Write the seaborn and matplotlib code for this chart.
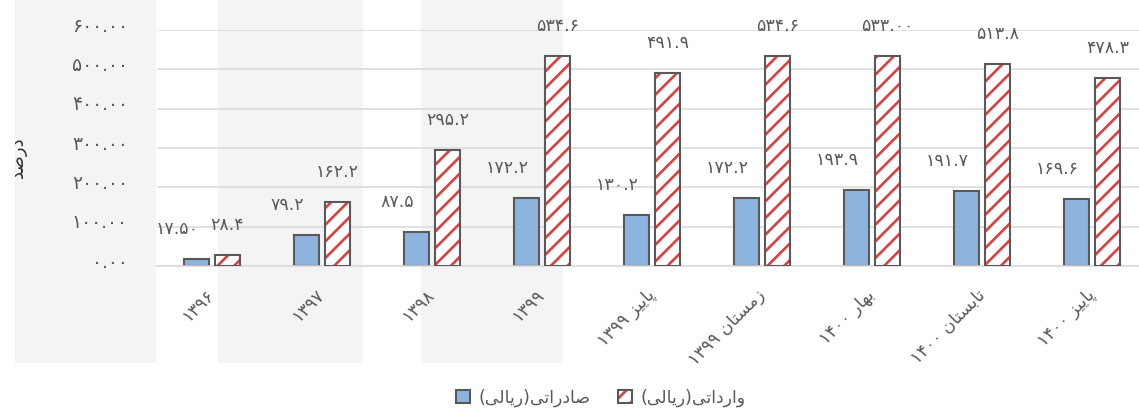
import matplotlib
matplotlib.use("Agg")
import matplotlib.pyplot as plt
import matplotlib.transforms as mtransforms
from matplotlib.patches import Rectangle, Patch
from matplotlib.legend_handler import HandlerTuple
import pandas as pd
import seaborn as sns

# ---- data -------------------------------------------------------------
periods = ["۱۳۹۶", "۱۳۹۷", "۱۳۹۸", "۱۳۹۹", "پاییز ۱۳۹۹", "زمستان ۱۳۹۹",
           "بهار ۱۴۰۰", "تابستان ۱۴۰۰", "پاییز ۱۴۰۰"]
exports = [17.50, 79.2, 87.5, 172.2, 130.2, 172.2, 193.9, 191.7, 169.6]
imports = [28.4, 162.2, 295.2, 534.6, 491.9, 534.6, 533.00, 513.8, 478.3]
export_decimals = [2, 1, 1, 1, 1, 1, 1, 1, 1]
import_decimals = [1, 1, 1, 1, 1, 1, 2, 1, 1]
series_names = ["صادراتی(ریالی)", "وارداتی(ریالی)"]
y_ticks = [0, 100, 200, 300, 400, 500, 600]
y_label = "درصد"

# ---- Persian text helpers (contextual forms + visual order) ----------
FORMS = {
    'ا': ('\uFE8D', '\uFE8E', None, None),
    'ب': ('\uFE8F', '\uFE90', '\uFE91', '\uFE92'),
    'پ': ('\uFB56', '\uFB57', '\uFB58', '\uFB59'),
    'ت': ('\uFE95', '\uFE96', '\uFE97', '\uFE98'),
    'د': ('\uFEA9', '\uFEAA', None, None),
    'ر': ('\uFEAD', '\uFEAE', None, None),
    'ز': ('\uFEAF', '\uFEB0', None, None),
    'س': ('\uFEB1', '\uFEB2', '\uFEB3', '\uFEB4'),
    'ص': ('\uFEB9', '\uFEBA', '\uFEBB', '\uFEBC'),
    'ل': ('\uFEDD', '\uFEDE', '\uFEDF', '\uFEE0'),
    'م': ('\uFEE1', '\uFEE2', '\uFEE3', '\uFEE4'),
    'ن': ('\uFEE5', '\uFEE6', '\uFEE7', '\uFEE8'),
    'ه': ('\uFEE9', '\uFEEA', '\uFEEB', '\uFEEC'),
    'و': ('\uFEED', '\uFEEE', None, None),
    'ی': ('\uFBFC', '\uFBFD', '\uFBFE', '\uFBFF'),
}
PERSIAN_DIGITS = str.maketrans("0123456789", "۰۱۲۳۴۵۶۷۸۹")
NUMERIC = set("۰۱۲۳۴۵۶۷۸۹0123456789.")
MIRROR = {"(": ")", ")": "("}


def shape_word(word):
    out = []
    for i, ch in enumerate(word):
        forms = FORMS[ch]
        prev = word[i - 1] if i > 0 else None
        nxt = word[i + 1] if i + 1 < len(word) else None
        joins_prev = prev is not None and FORMS[prev][2] is not None
        joins_next = nxt is not None and forms[2] is not None
        if joins_prev and joins_next:
            out.append(forms[3])
        elif joins_prev:
            out.append(forms[1])
        elif joins_next:
            out.append(forms[2])
        else:
            out.append(forms[0])
    return "".join(out)


def visual(text):
    """Right-to-left paragraph laid out as a left-to-right glyph string."""
    runs = []
    for ch in text:
        kind = "rtl" if ch in FORMS else ("num" if ch in NUMERIC else "neutral")
        if runs and runs[-1][1] == kind and kind != "neutral":
            runs[-1][0] += ch
        else:
            runs.append([ch, kind])
    parts = []
    for run, kind in reversed(runs):
        if kind == "rtl":
            parts.append(shape_word(run)[::-1])
        elif kind == "num":
            parts.append(run)
        else:
            parts.append(MIRROR.get(run, run))
    return "".join(parts)


def fa_number(value, decimals):
    return f"{value:.{decimals}f}".translate(PERSIAN_DIGITS)


# ---- style ------------------------------------------------------------
sns.set_theme(style="white")
plt.rcParams["font.family"] = ["DejaVu Sans"]
plt.rcParams["hatch.linewidth"] = 1.9

BLUE = "#8db4df"
RED = "#d9413f"
EDGE = "#595959"
GRID = "#d9d9d9"
TEXT = "#595959"
FS = 12.5

W, H = 1139, 413
fig = plt.figure(figsize=(W / 100, H / 100), dpi=100)
fig.patch.set_facecolor("white")

# faint vertical bands in the background
for x0, x1 in [(15, 156), (218, 363), (421, 563)]:
    fig.add_artist(Rectangle((x0 / W, (H - 363) / H), (x1 - x0) / W, 363 / H,
                             transform=fig.transFigure, facecolor="#f4f4f4",
                             edgecolor="none", zorder=-10))

ax = fig.add_axes([157 / W, (H - 266) / H, 990 / W, 236 / H])
ax.set_facecolor("none")

labels_vis = [visual(p) for p in periods]
names_vis = [visual(s) for s in series_names]
df = pd.DataFrame({
    "period": labels_vis * 2,
    "series": [names_vis[0]] * len(periods) + [names_vis[1]] * len(periods),
    "value": exports + imports,
})

sns.barplot(data=df, x="period", y="value", hue="series", order=labels_vis,
            hue_order=names_vis, palette=[BLUE, "white"], width=0.564, gap=0.19,
            edgecolor=EDGE, linewidth=1.5, saturation=1, legend=False, ax=ax)

exp_bars = ax.containers[0]
imp_bars = ax.containers[1]

for bar in imp_bars:
    bar.set_facecolor("white")
    bar.set_edgecolor(RED)
    bar.set_hatch("//")
    bar.set_linewidth(0)
    ax.add_patch(Rectangle(bar.get_xy(), bar.get_width(), bar.get_height(),
                           fill=False, edgecolor=EDGE, linewidth=1.5, zorder=3))

# value labels
for bar, v, d in zip(exp_bars, exports, export_decimals):
    ax.annotate(fa_number(v, d), xy=(bar.get_x() + bar.get_width() / 2, v),
                xytext=(-19, 30), textcoords="offset pixels", ha="center",
                va="center", fontsize=FS, color=TEXT, annotation_clip=False)
for bar, v, d in zip(imp_bars, imports, import_decimals):
    ax.annotate(fa_number(v, d), xy=(bar.get_x() + bar.get_width() / 2, v),
                xytext=(0, 30), textcoords="offset pixels", ha="center",
                va="center", fontsize=FS, color=TEXT, annotation_clip=False)

# axes
ax.set_xlim(-0.5, len(periods) - 0.5)
ax.set_ylim(0, 600)
ax.set_yticks(y_ticks)
ax.set_yticklabels([fa_number(t, 2) for t in y_ticks])
ax.yaxis.grid(True, color=GRID, linewidth=1.1)
ax.set_axisbelow(True)
for side in ["left", "right", "top"]:
    ax.spines[side].set_visible(False)
ax.spines["bottom"].set_color(GRID)
ax.spines["bottom"].set_linewidth(1.1)
ax.tick_params(axis="both", length=0, colors=TEXT, labelsize=FS)
ax.tick_params(axis="y", pad=21, labelsize=13.5)
ax.tick_params(axis="x", pad=19)
ax.set_xlabel("")
ax.set_ylabel("")

lift = mtransforms.ScaledTranslation(0, 6 / 100, fig.dpi_scale_trans)
for lbl in ax.get_yticklabels():
    lbl.set_transform(lbl.get_transform() + lift)

ax.set_xticks(range(len(periods)))
ax.set_xticklabels(labels_vis, rotation=45, rotation_mode="anchor",
                   ha="right", va="center")

fig.text(18 / W, (H - 157) / H, visual(y_label), rotation=90, ha="center",
         va="center", fontsize=13, color="#333333")

handles = [Patch(facecolor=BLUE, edgecolor=EDGE, linewidth=1.5),
           (Patch(facecolor="white", edgecolor=RED, hatch="//", linewidth=0),
            Patch(fill=False, edgecolor=EDGE, linewidth=1.5))]
leg = fig.legend(handles, names_vis, loc="center", ncol=2,
                 bbox_to_anchor=(601 / W, 15 / H), frameon=False,
                 fontsize=FS, handlelength=0.8, handleheight=0.8,
                 handletextpad=0.5, columnspacing=1.6, labelcolor=TEXT,
                 handler_map={tuple: HandlerTuple(ndivide=1, pad=0)})

fig.savefig("out.png", dpi=100, facecolor="white")
